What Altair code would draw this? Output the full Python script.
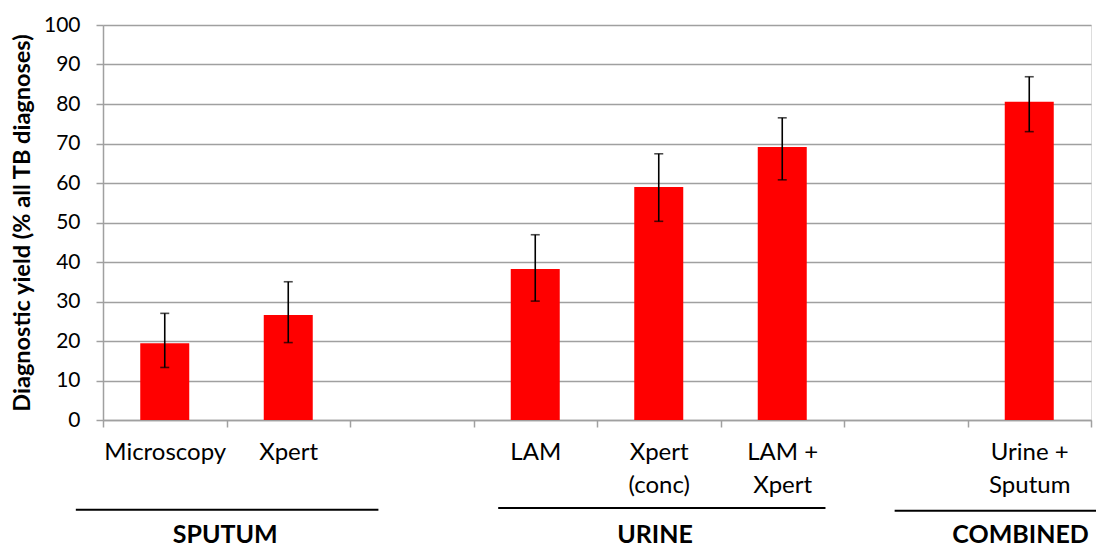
import json
import altair as alt
import pandas as pd

# ---- data ----
slot_labels = ["Microscopy", "Xpert", "", "LAM", "Xpert|(conc)", "LAM +|Xpert", "", "Urine +|Sputum"]
bar_slots = [0, 1, 3, 4, 5, 7]
bar_values = [19.4, 26.6, 38.2, 59.0, 69.1, 80.6]
err_low = [13.3, 19.6, 30.1, 50.3, 60.8, 73.0]
err_high = [27.0, 35.0, 46.9, 67.4, 76.5, 86.9]
y_ticks = [0, 10, 20, 30, 40, 50, 60, 70, 80, 90, 100]

groups = ["SPUTUM", "URINE", "COMBINED"]
group_start = [-0.22, 3.2, 6.41]
group_end = [2.23, 5.85, 8.1]
group_center = [0.99, 4.47, 7.43]

FONT = "Lato"

bars = pd.DataFrame({
    "pos": [s + 0.5 for s in bar_slots],
    "value": bar_values,
    "lo": err_low,
    "hi": err_high,
})
grp = pd.DataFrame({
    "name": groups,
    "x0": group_start,
    "x1": group_end,
    "xc": group_center,
    "ly": [-22.7, -22.3, -23.0],
    "ty": [-29.0, -29.0, -29.0],
})

xscale = alt.Scale(domain=[0, 8], nice=False, zero=False, padding=0)
yscale = alt.Scale(domain=[0, 100], nice=False, zero=True, padding=0)

label_expr = (
    "(datum.value % 1 == 0.5) ? split(" + json.dumps(slot_labels) +
    "[floor(datum.value)], '|') : ''"
)

xaxis = alt.Axis(
    values=[i * 0.5 for i in range(17)],
    labelExpr=label_expr,
    title=None,
    grid=False,
    domainColor="#a0a0a0",
    domainWidth=1.5,
    tickColor="#a0a0a0",
    tickWidth=1.5,
    tickSize=7,
    tickOpacity={"condition": {"test": "datum.value % 1 != 0", "value": 0}, "value": 1},
    labelFont=FONT,
    labelFontSize=24,
    labelColor="#000000",
    labelPadding=13,
    labelLineHeight=33,
    labelOverlap=False,
    labelFlush=False,
    labelBaseline="top",
)

yaxis = alt.Axis(
    values=y_ticks,
    tickCount=11,
    title="Diagnostic yield (% all TB diagnoses)",
    titleFont=FONT,
    titleFontSize=23.5,
    titleFontWeight="bold",
    titleColor="#000000",
    titleX=-81,
    titleY=197.5,
    titleAngle=-90,
    titleBaseline="middle",
    titleAlign="center",
    grid=True,
    gridColor="#a0a0a0",
    gridWidth=1.5,
    domainColor="#a0a0a0",
    domainWidth=1.5,
    tickColor="#a0a0a0",
    tickWidth=1.5,
    tickSize=7,
    labelFont=FONT,
    labelFontSize=21,
    labelColor="#000000",
    labelPadding=16,
    labelOverlap=False,
    labelFlush=False,
)


def X(field):
    return alt.X(field, type="quantitative", scale=xscale, axis=xaxis)


def Y(field):
    return alt.Y(field, type="quantitative", scale=yscale, axis=yaxis)


base = alt.Chart(bars)

bar_layer = base.mark_bar(color="#ff0000", size=49).encode(x=X("pos"), y=Y("value"))

err_layer = base.mark_rule(color="#000000", strokeWidth=1.6).encode(
    x=X("pos"), y=Y("lo"), y2="hi:Q"
)
cap_lo = base.mark_tick(color="#000000", orient="horizontal", size=9, thickness=1.6).encode(
    x=X("pos"), y=Y("lo")
)
cap_hi = base.mark_tick(color="#000000", orient="horizontal", size=9, thickness=1.6).encode(
    x=X("pos"), y=Y("hi")
)

gbase = alt.Chart(grp)
g_lines = gbase.mark_rule(color="#000000", strokeWidth=2).encode(
    x=X("x0"), x2="x1:Q", y=Y("ly")
)
g_text = gbase.mark_text(
    font=FONT, fontSize=25, fontWeight="bold", color="#000000", baseline="middle", align="center"
).encode(x=X("xc"), y=Y("ty"), text="name:N")

chart = alt.layer(bar_layer, err_layer, cap_lo, cap_hi, g_lines, g_text).properties(
    width=988,
    height=395,
    autosize=alt.AutoSizeParams(type="none"),
    padding={"left": 95, "top": 17, "right": 5, "bottom": 124},
).configure_view(stroke=None).configure(background="white")

chart.save("out.html", embed_options={"renderer": "svg", "actions": False})
